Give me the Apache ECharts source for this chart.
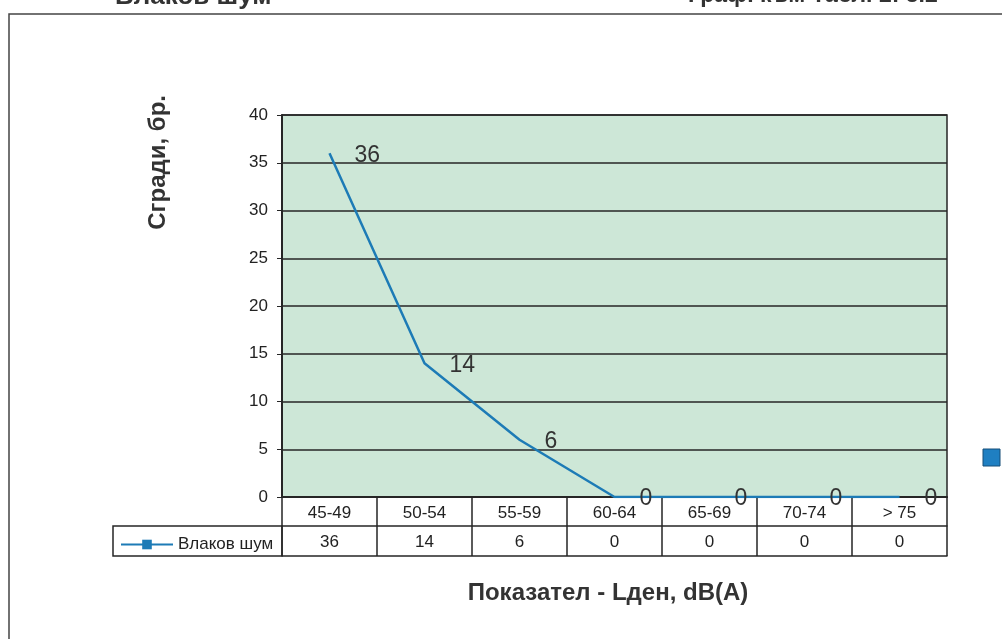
<!DOCTYPE html>
<html>
<head>
<meta charset="utf-8">
<script src="https://cdn.jsdelivr.net/npm/echarts@6/dist/echarts.min.js"></script>
<style>
  html, body { margin: 0; padding: 0; background: #fff; }
  #chart { width: 1002px; height: 639px; }
</style>
</head>
<body>
<div id="chart"></div>
<script>
// данни
const categories = ['45-49', '50-54', '55-59', '60-64', '65-69', '70-74', '> 75']
const trainNoise = [36, 14, 6, 0, 0, 0, 0]
const seriesName = 'Влаков шум'
const yMin = 0
const yMax = 40
const yStep = 5

const lineColor = '#1d7bb6'
const gridColor = '#262626'
const font = 'Arial, "Liberation Sans", sans-serif'

const chart = echarts.init(document.getElementById('chart'))

const option = {
  backgroundColor: '#ffffff',
  animation: false,
  textStyle: { fontFamily: font },
  grid: {
    left: 282,
    right: 55,
    top: 115,
    bottom: 142,
    show: true,
    backgroundColor: '#cde7d7',
    borderColor: gridColor,
    borderWidth: 1.5
  },
  legend: {
    left: 115,
    top: 531,
    itemWidth: 52,
    itemHeight: 12,
    itemGap: 4,
    textStyle: { fontSize: 17, color: '#222', fontFamily: font },
    data: [seriesName]
  },
  xAxis: [
    {
      type: 'category',
      data: categories,
      position: 'bottom',
      axisLine: { lineStyle: { color: gridColor, width: 2 } },
      axisTick: { show: true, inside: false, length: 59, interval: 0, lineStyle: { color: gridColor, width: 1.5 } },
      axisLabel: { interval: 0, margin: 8, fontSize: 17, color: '#222' }
    },
    {
      type: 'category',
      data: categories,
      position: 'bottom',
      offset: 29,
      axisLine: { lineStyle: { color: gridColor, width: 1.5 } },
      axisTick: { show: false },
      axisLabel: {
        interval: 0,
        margin: 8,
        fontSize: 17,
        color: '#222',
        formatter: (v, i) => String(trainNoise[i])
      }
    },
    {
      type: 'category',
      data: categories,
      position: 'bottom',
      offset: 59,
      axisLine: { lineStyle: { color: gridColor, width: 1.5 } },
      axisTick: { show: false },
      axisLabel: { show: false },
      name: 'Показател - Lден, dB(A)',
      nameLocation: 'middle',
      nameGap: 25,
      nameTextStyle: { fontSize: 24, fontWeight: 'bold', color: '#333', padding: [0, 13, 0, 0] }
    }
  ],
  yAxis: {
    type: 'value',
    min: yMin,
    max: yMax,
    interval: yStep,
    axisLine: { show: true, lineStyle: { color: gridColor, width: 2 } },
    axisTick: { show: true, length: 5, lineStyle: { color: gridColor } },
    axisLabel: { fontSize: 17, color: '#222', margin: 14 },
    splitLine: { show: true, lineStyle: { color: gridColor, width: 1.5 } }
  },
  graphic: [
    // рамка
    { type: 'polyline', shape: { points: [[9, 639], [9, 14], [1002, 14]] }, style: { stroke: '#444', lineWidth: 1.5, fill: null } },
    // клетка на легендата
    { type: 'rect', shape: { x: 113, y: 526, width: 169, height: 30 }, style: { stroke: gridColor, lineWidth: 1.5, fill: null } },
    { type: 'text', left: 115, top: -16, style: { text: 'Влаков шум', font: 'bold 26px ' + font, fill: '#333' } },
    { type: 'text', left: 688, top: -16, style: { text: 'Граф. към Табл. 2: 3.2', font: 'bold 23px ' + font, fill: '#333' } },
    {
      type: 'text',
      left: 146,
      top: 95,
      rotation: Math.PI / 2,
      style: { text: 'Сгради, бр.', font: 'bold 24px ' + font, fill: '#333' }
    },
    { type: 'rect', shape: { x: 983, y: 449, width: 17, height: 17 }, style: { fill: '#1f7fc2', stroke: '#174e78', lineWidth: 1 } }
  ],
  series: [{
    name: seriesName,
    type: 'line',
    data: trainNoise,
    symbol: 'rect',
    symbolSize: 0.1,
    showSymbol: true,
    lineStyle: { color: lineColor, width: 2.5 },
    itemStyle: { color: lineColor },
    label: {
      show: true,
      position: 'right',
      distance: 23,
      offset: [2, 2],
      fontSize: 23,
      color: '#333'
    }
  }]
}

chart.setOption(option)
</script>
</body>
</html>
